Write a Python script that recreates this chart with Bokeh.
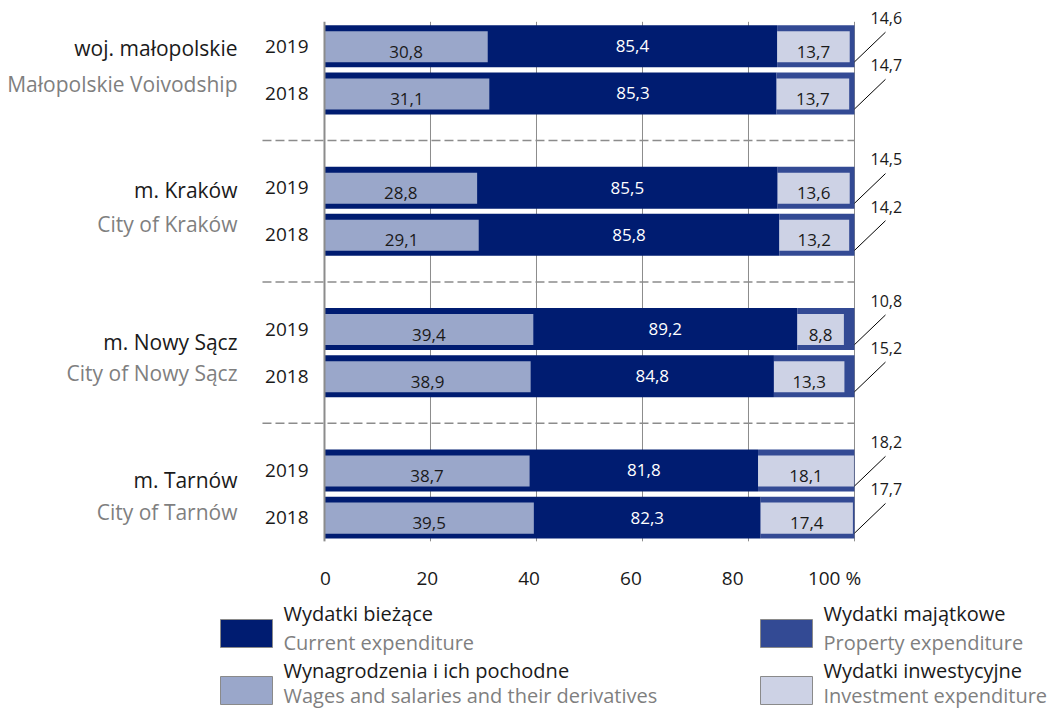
from bokeh.plotting import figure
from bokeh.models import Range1d, LinearAxis, FixedTicker
from bokeh.layouts import column
from bokeh.embed import file_html
from bokeh.resources import INLINE
from bokeh.core.properties import value

# ---------------- data ----------------
groups_pl = ["woj. małopolskie", "m. Kraków", "m. Nowy Sącz", "m. Tarnów"]
groups_en = ["Małopolskie Voivodship", "City of Kraków", "City of Nowy Sącz", "City of Tarnów"]
years = ["2019", "2018"]
current = [85.4, 85.3, 85.5, 85.8, 89.2, 84.8, 81.8, 82.3]
property_exp = [14.6, 14.7, 14.5, 14.2, 10.8, 15.2, 18.2, 17.7]
wages = [30.8, 31.1, 28.8, 29.1, 39.4, 38.9, 38.7, 39.5]
investment = [13.7, 13.7, 13.6, 13.2, 8.8, 13.3, 18.1, 17.4]
x_ticks = [0, 20, 40, 60, 80, 100]
x_tick_labels = ["0", "20", "40", "60", "80", "100 %"]
legend_pl = ["Wydatki bieżące", "Wynagrodzenia i ich pochodne", "Wydatki majątkowe", "Wydatki inwestycyjne"]
legend_en = ["Current expenditure", "Wages and salaries and their derivatives",
             "Property expenditure", "Investment expenditure"]

# ---------------- style ----------------
FONT = "Open Sans"
C_CUR = "#001c71"
C_PROP = "#334a94"
C_WAGE = "#9aa7ca"
C_INV = "#cdd2e5"
C_GRID = "#8c8c8c"
C_TXT = "#1a1a1a"
C_GRAY = "#7f7f7f"
legend_colors = [C_CUR, C_WAGE, C_PROP, C_INV]


def fmt(v):
    return f"{v:.1f}".replace(".", ",")


n_years = len(years)
pos = [3 * g + j for g in range(len(groups_pl)) for j in range(n_years)]
year_lab = [years[j] for g in range(len(groups_pl)) for j in range(n_years)]
ends = [c + p for c, p in zip(current, property_exp)]

W = 1052
H_TOP = 593
H_LEG = 118

p = figure(width=W, height=H_TOP,
           x_range=Range1d(-61.13, 137.36), y_range=Range1d(10.507, -0.9725),
           x_axis_location=None, y_axis_location=None,
           toolbar_location=None, output_backend="svg",
           min_border=0, min_border_bottom=50, outline_line_color=None)
p.grid.visible = False
p.extra_x_ranges = {"lab": Range1d(-63.85, 142.83)}

ax = LinearAxis(x_range_name="lab", ticker=FixedTicker(ticks=x_ticks),
                major_label_overrides={t: l for t, l in zip(x_ticks, x_tick_labels)})
ax.axis_line_color = None
ax.major_tick_line_color = None
ax.minor_tick_line_color = None
ax.major_label_standoff = 17
ax.major_label_text_font = FONT
ax.major_label_text_font_size = "19px"
ax.major_label_text_color = C_TXT
p.add_layout(ax, "below")

# gridlines
p.segment(x0=x_ticks[1:], x1=x_ticks[1:], y0=-0.52, y1=10.51, line_color=C_GRID, line_width=1)
# separators
seps = [3 * g - 1 for g in range(1, len(groups_pl))]
p.segment(x0=-11.7, x1=x_ticks[-1], y0=seps, y1=seps, line_color=C_GRID, line_width=1.5,
          line_dash="9 4")

# bars
H_OUT = 0.89
H_IN = 0.66
p.hbar(y=pos, left=0, right=current, height=H_OUT, fill_color=C_CUR, line_color=None)
p.hbar(y=pos, left=current, right=ends, height=H_OUT, fill_color=C_PROP, line_color=None)
p.hbar(y=[y + 0.01 for y in pos], left=0, right=wages, height=H_IN, fill_color=C_WAGE, line_color=None)
p.hbar(y=[y + 0.01 for y in pos], left=current, right=[c + i for c, i in zip(current, investment)],
       height=H_IN, fill_color=C_INV, line_color=None)

# axis line at 0
p.segment(x0=0, x1=0, y0=-0.52, y1=10.51, line_color=C_GRID, line_width=2)

# value labels
p.text(x=[w / 2 for w in wages], y=[y + 0.12 for y in pos], text=[fmt(v) for v in wages],
       text_align="center", text_baseline="middle", text_font=value(FONT),
       text_font_size="17px", text_color=C_TXT)
p.text(x=[(w + c) / 2 for w, c in zip(wages, current)], y=pos, text=[fmt(v) for v in current],
       text_align="center", text_baseline="middle", text_font=value(FONT),
       text_font_size="17px", text_color="white")
p.text(x=[c + i / 2 for c, i in zip(current, investment)], y=[y + 0.12 for y in pos],
       text=[fmt(v) for v in investment],
       text_align="center", text_baseline="middle", text_font=value(FONT),
       text_font_size="17px", text_color=C_TXT)

# property labels with leader lines
p.segment(x0=ends, y0=[y + 0.33 for y in pos], x1=[e + 5.85 for e in ends], y1=[y - 0.3 for y in pos],
          line_color="black", line_width=1)
p.text(x=[e + 6 for e in ends], y=[y - 0.6 for y in pos], text=[fmt(v) for v in property_exp],
       text_align="center", text_baseline="middle", text_font=value(FONT),
       text_font_size="16px", text_color=C_TXT)

# year labels
p.text(x=0, y=pos, text=year_lab, x_offset=-16, text_align="right", text_baseline="middle",
       text_font=value(FONT), text_font_size="19px", text_color=C_TXT)

# group names
name_off_pl = [0.04, 0.04, 0.27, 0.21]
name_off_en = [0.8, 0.78, 0.93, 0.89]
gpos = [3 * g for g in range(len(groups_pl))]
p.text(x=0, y=[g + o for g, o in zip(gpos, name_off_pl)], text=groups_pl, x_offset=-87,
       text_align="right", text_baseline="middle", text_font=value(FONT),
       text_font_size="21px", text_color=C_TXT)
p.text(x=0, y=[g + o for g, o in zip(gpos, name_off_en)], text=groups_en, x_offset=-87,
       text_align="right", text_baseline="middle", text_font=value(FONT),
       text_font_size="21px", text_color=C_GRAY)

# ---------------- legend ----------------
leg = figure(width=W, height=H_LEG, x_range=Range1d(0, W), y_range=Range1d(H_LEG, 0),
             x_axis_location=None, y_axis_location=None, toolbar_location=None,
             output_backend="svg", min_border=0, outline_line_color=None)
leg.grid.visible = False
col_x = [220, 760]
row_y = [26, 83]
sub_off = [23, 19]
BW, BH = 52, 28
bx, by, tx, ty1, ty2 = [], [], [], [], []
for k in range(len(legend_pl)):
    c, r = divmod(k, 2)
    bx.append(col_x[c] + BW / 2)
    by.append(row_y[r] + BH / 2)
    tx.append(col_x[c] + BW + 11)
    ty1.append(row_y[r] - 6)
    ty2.append(row_y[r] + sub_off[r])
leg.rect(x=bx, y=by, width=BW, height=BH, fill_color=legend_colors, line_color="#8a8a8a", line_width=1)
leg.text(x=tx, y=ty1, text=legend_pl, text_align="left", text_baseline="middle",
         text_font=value(FONT), text_font_size="20px", text_color=C_TXT)
leg.text(x=tx, y=ty2, text=legend_en, text_align="left", text_baseline="middle",
         text_font=value(FONT), text_font_size="20px", text_color=C_GRAY)

layout = column(p, leg, spacing=0)
open("out.html", "w").write(file_html(layout, INLINE))
